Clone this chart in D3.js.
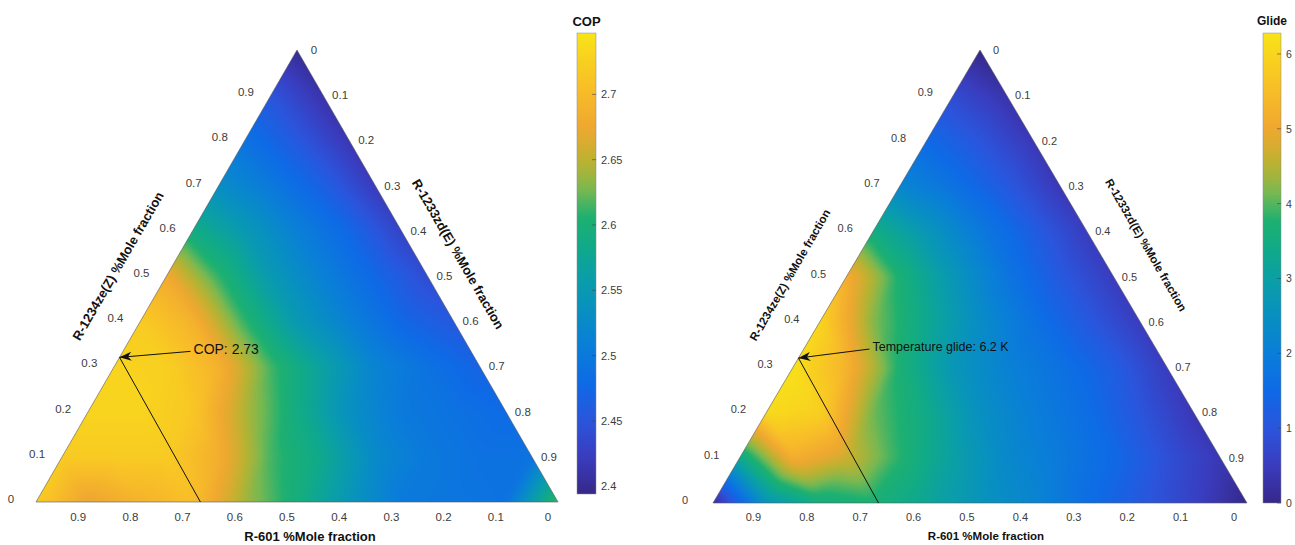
<!DOCTYPE html>
<html><head><meta charset="utf-8">
<script src="https://cdn.jsdelivr.net/npm/d3@7"></script>
<style>
html,body{margin:0;padding:0;background:#fff;}
#wrap{position:relative;width:1295px;height:545px;overflow:hidden;}
svg{position:absolute;left:0;top:0;}
text{font-family:"Liberation Sans",Arial,Helvetica,sans-serif;}
</style></head>
<body><div id="wrap"></div>
<script>
// ---------------- DATA ----------------
// Ternary grid, step 0.1. Row i: R-1234ze(Z) fraction b = i/10.
// Entry j: R-1233zd(E) fraction c = j/10 ; R-601 fraction a = 1 - b - c.
const fractionTicks = [0, 0.1, 0.2, 0.3, 0.4, 0.5, 0.6, 0.7, 0.8, 0.9];
const copTicks = [2.4, 2.45, 2.5, 2.55, 2.6, 2.65, 2.7];
const glideTicks = [0, 1, 2, 3, 4, 5, 6];
const copRange = [2.394, 2.747];
const glideRange = [0, 6.28];

const copRows = [
  [2.72, 2.67, 2.69, 2.705, 2.64, 2.595, 2.545, 2.50, 2.495, 2.49, 2.62],
  [2.72, 2.72, 2.72, 2.685, 2.615, 2.58, 2.525, 2.50, 2.49, 2.49],
  [2.73, 2.73, 2.715, 2.645, 2.59, 2.535, 2.50, 2.49, 2.48],
  [2.73, 2.725, 2.69, 2.615, 2.565, 2.515, 2.49, 2.47],
  [2.72, 2.69, 2.61, 2.55, 2.51, 2.475, 2.455],
  [2.68, 2.61, 2.55, 2.51, 2.475, 2.44],
  [2.59, 2.55, 2.51, 2.475, 2.43],
  [2.53, 2.50, 2.465, 2.42],
  [2.49, 2.455, 2.415],
  [2.45, 2.41],
  [2.40]
];

const glideRows = [
  [0.0, 2.6, 3.5, 3.7, 3.2, 2.6, 2.2, 1.6, 1.1, 0.6, 0.0],
  [3.3, 5.2, 4.7, 3.8, 3.0, 2.3, 1.9, 1.5, 0.9, 0.4],
  [6.1, 5.9, 4.1, 3.4, 2.5, 2.0, 1.6, 1.0, 0.4],
  [6.2, 5.3, 3.7, 2.7, 2.1, 1.7, 1.2, 0.5],
  [6.0, 4.2, 3.3, 2.4, 1.7, 1.1, 0.5],
  [5.2, 3.7, 2.7, 1.8, 1.1, 0.5],
  [3.5, 2.7, 1.9, 1.2, 0.5],
  [2.2, 1.7, 1.1, 0.4],
  [1.5, 1.0, 0.4],
  [0.8, 0.3],
  [0.0]
];

// annotated optimum: composition on the R-601/R-1234ze(Z) edge and foot of the guide line (c on base)
const copPeak = { b: 0.32, footC: 0.315, label: "COP: 2.73" };
const glidePeak = { b: 0.32, footC: 0.31, label: "Temperature glide: 6.2 K" };

// ---------------- STYLE ----------------
// parula-like colormap as rendered in the figure
const cmapStops = [0, 0.08, 0.16, 0.24, 0.32, 0.40, 0.47, 0.54, 0.60, 0.63, 0.66, 0.69, 0.72, 0.76, 0.80, 0.88, 0.94, 1];
const cmapColors = ["#36288a", "#3a3cbe", "#2a55dc", "#0e6ae6", "#0a7ed8", "#0890c0", "#0a9ea8",
  "#10aa88", "#1eb070", "#4ab462", "#78b850", "#9cb540", "#b8b232", "#d8ac30", "#f0a830",
  "#f8be28", "#f8d020", "#f8e418"];

const colormap = d3.scaleLinear().domain(cmapStops).range(cmapColors)
  .interpolate(d3.interpolateRgb).clamp(true);

const panels = [
  { rows: copRows, range: copRange, ticks: copTicks, peak: copPeak, title: "COP",
    xL: 36, xR: 558, yBase: 502, yTop: 50,
    tickFont: 11.5, axisFont: 13, leftOff: [-25, -3], rightOff: [17, 0], botOff: [-10, 15],
    botTitle: [310, 536], leftTitle: [118, 266], rightTitle: [458, 254],
    cb: { x0: 577, x1: 596, y0: 33, y1: 494, titleY: 21, titleFont: 13, font: 11 },
    noteOff: [74, -8], noteFont: 14 },
  { rows: glideRows, range: glideRange, ticks: glideTicks, peak: glidePeak, title: "Glide",
    xL: 713, xR: 1247, yBase: 503, yTop: 50,
    tickFont: 11, axisFont: 11.5, leftOff: [-28, -3], rightOff: [16, 0], botOff: [-13, 14],
    botTitle: [986, 536], leftTitle: [790, 275], rightTitle: [1146, 245],
    cb: { x0: 1263, x1: 1281, y0: 33, y1: 503, titleY: 21, titleFont: 12, font: 10.5 },
    noteOff: [74, -11], noteFont: 12.5 }
];

function sampleGrid(rows, b, c) {
  const N = rows.length - 1;
  b = Math.max(0, Math.min(1, b));
  c = Math.max(0, Math.min(1 - b, c));
  let u = b * N, v = c * N;
  if (u + v > N - 1e-6) { const s = (N - 1e-6) / (u + v); u *= s; v *= s; }
  const i = Math.floor(u), j = Math.floor(v);
  const fu = u - i, fv = v - j;
  const V = (p, q) => rows[p][q];
  if (fu + fv <= 1) return V(i, j) * (1 - fu - fv) + V(i + 1, j) * fu + V(i, j + 1) * fv;
  return V(i + 1, j + 1) * (fu + fv - 1) + V(i + 1, j) * (1 - fv) + V(i, j + 1) * (1 - fu);
}

// separable box blur on a float buffer (smooths the linear facets, like shaded interp)
function boxBlur(buf, w, h, r) {
  const tmp = new Float32Array(buf.length);
  for (let y = 0; y < h; y++) {
    for (let x = 0; x < w; x++) {
      let s = 0, n = 0;
      for (let k = -r; k <= r; k++) { const xx = Math.min(w - 1, Math.max(0, x + k)); s += buf[y * w + xx]; n++; }
      tmp[y * w + x] = s / n;
    }
  }
  for (let x = 0; x < w; x++) {
    for (let y = 0; y < h; y++) {
      let s = 0, n = 0;
      for (let k = -r; k <= r; k++) { const yy = Math.min(h - 1, Math.max(0, y + k)); s += tmp[yy * w + x]; n++; }
      buf[y * w + x] = s / n;
    }
  }
}

const W = 1295, H = 545;
const svg = d3.select("#wrap").append("svg").attr("width", W).attr("height", H);
const defs = svg.append("defs");
const lut = d3.range(1024).map(i => d3.rgb(colormap(i / 1023)));

panels.forEach((P, k) => {
  const xs = d3.scaleLinear().domain([0, 1]).range([P.xL, P.xR]);
  const ys = d3.scaleLinear().domain([0, 1]).range([P.yBase, P.yTop]);
  const tScale = d3.scaleLinear().domain(P.range).range([0, 1]).clamp(true);
  const pt = (b, c) => [xs(c + b / 2), ys(b)];

  // ---- field raster ----
  const pad = 8;
  const bx0 = Math.floor(P.xL) - pad, bx1 = Math.ceil(P.xR) + pad;
  const by0 = Math.floor(P.yTop) - pad, by1 = Math.ceil(P.yBase) + pad;
  const cw = bx1 - bx0, ch = by1 - by0;
  const vals = new Float32Array(cw * ch);
  for (let py = 0; py < ch; py++) {
    const b = ys.invert(by0 + py + 0.5);
    for (let px = 0; px < cw; px++) {
      const s = xs.invert(bx0 + px + 0.5);
      vals[py * cw + px] = sampleGrid(P.rows, b, s - b / 2);
    }
  }
  boxBlur(vals, cw, ch, 4);
  boxBlur(vals, cw, ch, 4);
  const cv = document.createElement("canvas");
  cv.width = cw; cv.height = ch;
  const ctx = cv.getContext("2d");
  const img = ctx.createImageData(cw, ch);
  for (let p = 0; p < cw * ch; p++) {
    const col = lut[Math.round(tScale(vals[p]) * 1023)];
    img.data[p * 4] = col.r; img.data[p * 4 + 1] = col.g; img.data[p * 4 + 2] = col.b; img.data[p * 4 + 3] = 255;
  }
  ctx.putImageData(img, 0, 0);

  const triPts = [pt(0, 0), pt(1, 0), pt(0, 1)];
  const clipId = "clip" + k;
  defs.append("clipPath").attr("id", clipId)
    .append("path").attr("d", d3.line()(triPts) + "Z");
  const g = svg.append("g");
  g.append("image").attr("href", cv.toDataURL()).attr("x", bx0).attr("y", by0)
    .attr("width", cw).attr("height", ch).attr("clip-path", `url(#${clipId})`);
  g.append("path").attr("d", d3.line()(triPts) + "Z")
    .attr("fill", "none").attr("stroke", "#5a5a5a").attr("stroke-width", 0.6);

  // ---- tick labels ----
  const fmt = v => (v === 0 ? "0" : d3.format(".1f")(v));
  g.selectAll(".tl").data(fractionTicks).enter().append("text")
    .attr("x", d => pt(d, 0)[0] + P.leftOff[0]).attr("y", d => pt(d, 0)[1] + P.leftOff[1])
    .attr("text-anchor", "middle").attr("dominant-baseline", "central")
    .attr("font-size", P.tickFont).attr("fill", "#3c3c3c").text(fmt);
  g.selectAll(".tr").data(fractionTicks).enter().append("text")
    .attr("x", d => pt(1 - d, d)[0] + P.rightOff[0]).attr("y", d => pt(1 - d, d)[1] + P.rightOff[1])
    .attr("text-anchor", "middle").attr("dominant-baseline", "central")
    .attr("font-size", P.tickFont).attr("fill", "#3c3c3c").text(fmt);
  g.selectAll(".tb").data(fractionTicks).enter().append("text")
    .attr("x", d => pt(0, 1 - d)[0] + P.botOff[0]).attr("y", d => pt(0, 1 - d)[1] + P.botOff[1])
    .attr("text-anchor", "middle").attr("dominant-baseline", "central")
    .attr("font-size", P.tickFont).attr("fill", "#3c3c3c").text(fmt);

  // ---- axis titles ----
  const title = (pos, rot, txt) => g.append("text")
    .attr("transform", `translate(${pos[0]},${pos[1]}) rotate(${rot})`)
    .attr("text-anchor", "middle").attr("dominant-baseline", "central")
    .attr("font-size", P.axisFont).attr("font-weight", "bold").attr("fill", "#111").text(txt);
  title(P.botTitle, 0, "R-601 %Mole fraction");
  title(P.leftTitle, -60, "R-1234ze(Z) %Mole fraction");
  title(P.rightTitle, 60, "R-1233zd(E) %Mole fraction");

  // ---- annotation ----
  const tip = pt(P.peak.b, 0);
  const foot = pt(0, P.peak.footC);
  g.append("line").attr("x1", tip[0]).attr("y1", tip[1]).attr("x2", foot[0]).attr("y2", foot[1])
    .attr("stroke", "#111").attr("stroke-width", 1);
  const tx = tip[0] + P.noteOff[0], ty = tip[1] + P.noteOff[1];
  const tail = [tx - 3, ty + 2];
  g.append("line").attr("x1", tail[0]).attr("y1", tail[1]).attr("x2", tip[0]).attr("y2", tip[1])
    .attr("stroke", "#111").attr("stroke-width", 1);
  const ang = Math.atan2(tail[1] - tip[1], tail[0] - tip[0]) * 180 / Math.PI;
  g.append("path").attr("d", "M0,0L12,-4.5L8.5,0L12,4.5Z")
    .attr("transform", `translate(${tip[0]},${tip[1]}) rotate(${ang})`)
    .attr("fill", "#111");
  g.append("text").attr("x", tx).attr("y", ty).attr("dominant-baseline", "central")
    .attr("font-size", P.noteFont).attr("fill", "#111").text(P.peak.label);

  // ---- colorbar ----
  const cb = P.cb;
  const cys = d3.scaleLinear().domain(P.range).range([cb.y1, cb.y0]);
  const gid = "grad" + k;
  const grad = defs.append("linearGradient").attr("id", gid)
    .attr("x1", 0).attr("y1", 1).attr("x2", 0).attr("y2", 0);
  grad.selectAll("stop").data(cmapStops).enter().append("stop")
    .attr("offset", d => d).attr("stop-color", (d, i) => cmapColors[i]);
  g.append("rect").attr("x", cb.x0).attr("y", cb.y0).attr("width", cb.x1 - cb.x0)
    .attr("height", cb.y1 - cb.y0).attr("fill", `url(#${gid})`)
    .attr("stroke", "#8a8a8a").attr("stroke-width", 0.5);
  g.selectAll(".ct").data(P.ticks).enter().append("line")
    .attr("x1", cb.x1 - 4).attr("x2", cb.x1).attr("y1", d => cys(d)).attr("y2", d => cys(d))
    .attr("stroke", "#444").attr("stroke-width", 0.6);
  g.selectAll(".cl").data(P.ticks).enter().append("text")
    .attr("x", cb.x1 + 5).attr("y", d => cys(d)).attr("dominant-baseline", "central")
    .attr("font-size", cb.font).attr("fill", "#3c3c3c").text(d => String(d));
  g.append("text").attr("x", (cb.x0 + cb.x1) / 2).attr("y", cb.titleY)
    .attr("text-anchor", "middle").attr("dominant-baseline", "central")
    .attr("font-size", cb.titleFont).attr("font-weight", "bold").attr("fill", "#111").text(P.title);
});
</script></body></html>
